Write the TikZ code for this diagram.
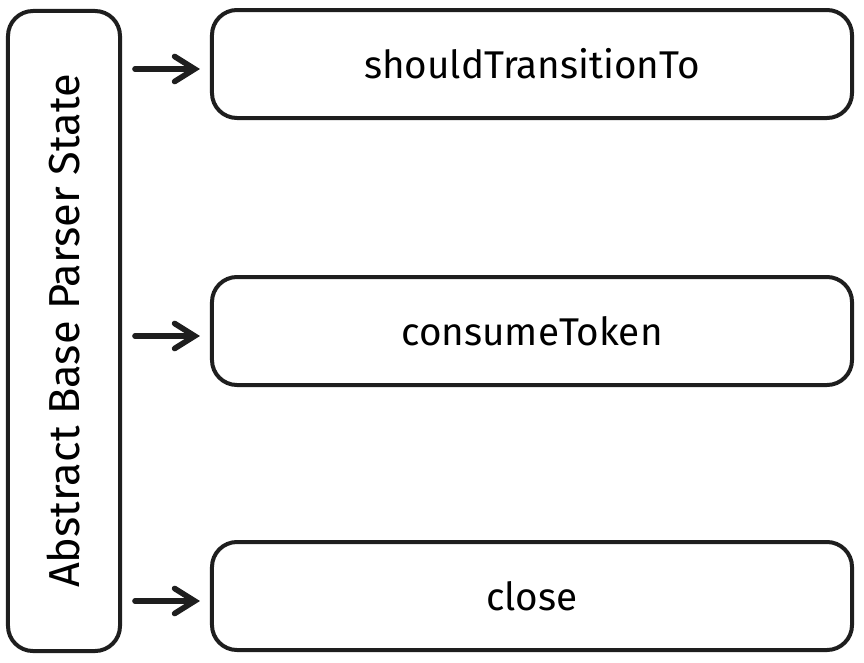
\documentclass[tikz,border=0pt]{standalone}
\usepackage{fontspec}
\setmainfont{Fira Sans}
\usetikzlibrary{arrows.meta,calc}
\definecolor{inkgray}{RGB}{30,30,30}

\begin{document}
\begin{tikzpicture}[x=0.03cm,y=-0.03cm,
  method/.style={draw=inkgray,line width=1.2mm,rounded corners=0.75cm,minimum width=19.2cm,minimum height=3.24cm,font=\fontsize{33}{40}\selectfont},
  link/.style={draw=inkgray,line width=1.7mm,line cap=round,-{Straight Barb[length=0.6cm,width=0.75cm,line cap=round]},shorten <=0.39cm,shorten >=0.3cm}]
\useasboundingbox (0,0) rectangle (864,662);
% Parser state and its methods
\node[draw=inkgray,line width=1.2mm,rounded corners=0.75cm,minimum width=3.36cm,minimum height=19.2cm] (state) at (64,331) {};
\node[rotate=90,font=\fontsize{37}{44}\selectfont] (statelabel) at (state.center) {Abstract Base Parser State};
\node[method] (transition) at (532,64) {shouldTransitionTo};
\node[method] (consume) at (532,331) {consumeToken};
\node[method] (close) at (532,596) {close};

\draw[link] ($(state.east |- transition.west)+(0,5)$) -- ($(transition.west)+(0,5)$);
\draw[link] ($(state.east |- consume.west)+(0,5)$) -- ($(consume.west)+(0,5)$);
\draw[link] ($(state.east |- close.west)+(0,5)$) -- ($(close.west)+(0,5)$);
\end{tikzpicture}
\end{document}
